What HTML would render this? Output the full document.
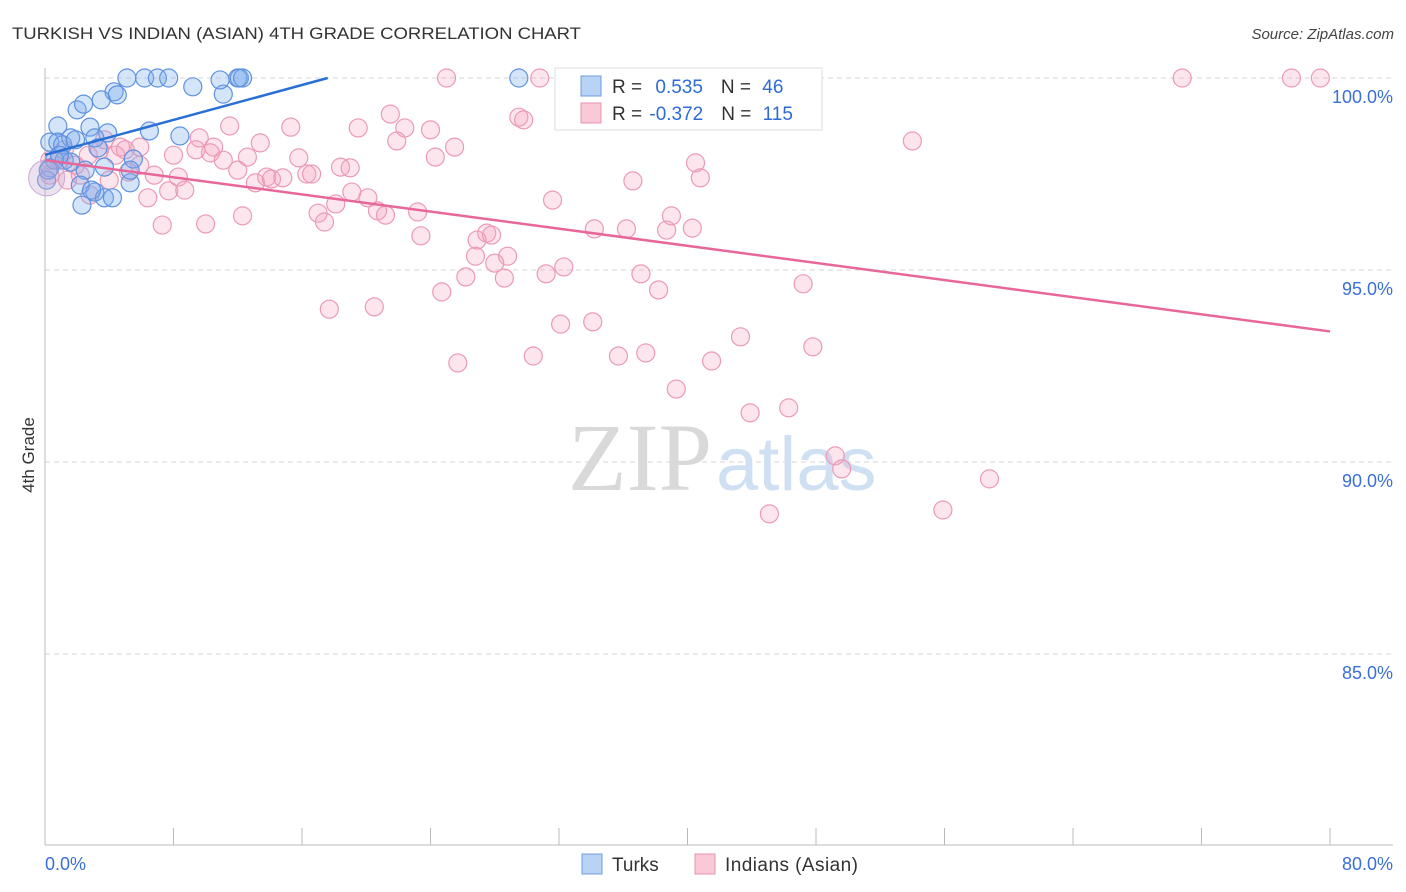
<!DOCTYPE html>
<html><head><meta charset="utf-8">
<style>
body{margin:0;background:#fff;font-family:"Liberation Sans",sans-serif;}
svg{display:block}
</style></head>
<body>
<svg id="chart" width="1406" height="892">
<text x="12" y="39" font-size="17" fill="#333" textLength="569" lengthAdjust="spacingAndGlyphs">TURKISH VS INDIAN (ASIAN) 4TH GRADE CORRELATION CHART</text>
<text x="1394" y="39" font-size="15" fill="#444" text-anchor="end" font-style="italic">Source: ZipAtlas.com</text>
<text x="0" y="0" font-size="17" fill="#333" transform="translate(34,455) rotate(-90)" text-anchor="middle">4th Grade</text>
<g id="grid"></g>
<text x="712" y="490" font-size="96" fill="#d9d9d9" text-anchor="end" font-family="Liberation Serif,serif">ZIP</text>
<text x="716" y="490" font-size="76" fill="#cfe0f3">atlas</text>
<g id="marks"></g>
<g id="legend">
<rect x="555" y="68" width="267" height="62" fill="#fff" stroke="#ddd"/>
<rect x="581" y="76" width="20" height="20" fill="#b9d3f5" stroke="#6c9be0"/>
<rect x="581" y="103" width="20" height="20" fill="#f9c9d8" stroke="#e893b0"/>
<text x="612" y="93" font-size="19" fill="#333">R = <tspan fill="#2e6bd4" dx="8">0.535</tspan><tspan dx="18" fill="#333">N = </tspan><tspan fill="#2e6bd4" dx="6">46</tspan></text>
<text x="612" y="120" font-size="19" fill="#333">R = <tspan fill="#2e6bd4" dx="2">-0.372</tspan><tspan dx="18" fill="#333">N = </tspan><tspan fill="#2e6bd4" dx="6">115</tspan></text>
</g>
<g>
<rect x="582" y="854" width="20" height="20" fill="#b9d3f5" stroke="#6c9be0"/>
<text x="612" y="871" font-size="19" fill="#333">Turks</text>
<rect x="695" y="854" width="20" height="20" fill="#f9c9d8" stroke="#e893b0"/>
<text x="725" y="871" font-size="19" fill="#333" textLength="133">Indians (Asian)</text>
</g>
</svg>
<script>
const yTicks=[100,95,90,85];
const yTickLabels=["100.0%","95.0%","90.0%","85.0%"];
const xTickCount=10;
const turksX=[5.1,6.2,7.0,7.7,12.0,12.1,12.3,29.5,9.2,11.1,4.3,4.5,3.5,2.0,2.4,0.8,2.8,3.9,6.5,8.4,3.1,0.3,0.8,1.6,1.1,3.3,1.2,1.6,5.5,0.3,3.7,2.5,0.1,5.3,2.2,3.1,2.3,3.7,4.2,0.6,0.9,1.9,0.2,5.3,2.9,10.9];
const turksY=[100,100,100,100,100,100,100,100,99.77,99.58,99.64,99.56,99.43,99.17,99.32,98.75,98.72,98.57,98.62,98.49,98.44,98.33,98.33,98.44,98.26,98.18,97.86,97.81,97.89,97.66,97.68,97.60,97.34,97.27,97.21,97.03,96.69,96.88,96.88,97.86,97.99,98.39,97.60,97.60,97.08,99.95];
const indX=[25.0,30.8,46.8,70.8,77.6,79.4,21.5,29.5,29.8,11.5,15.3,19.5,22.4,24.0,54.0,9.6,13.4,21.9,25.5,4.7,5.9,10.5,9.4,8.0,10.3,12.6,15.8,24.3,11.1,40.5,18.4,19.0,12.0,16.3,16.6,13.8,14.1,14.8,13.1,6.8,8.3,36.6,40.8,4.0,8.7,7.7,19.1,20.1,6.4,18.1,31.6,12.3,17.0,20.7,21.2,23.2,17.4,7.3,10.0,34.2,36.2,39.0,38.7,40.3,23.4,26.9,27.5,27.8,26.8,28.8,28.0,32.3,31.2,37.1,26.2,28.6,38.2,24.7,47.2,17.7,20.5,32.1,34.1,43.3,37.4,47.8,25.7,30.4,35.7,41.5,39.3,43.9,46.3,49.2,49.6,58.8,45.1,55.9,0.9,1.9,2.7,3.4,0.3,1.4,5.2,4.4,5.9,2.2,2.8,1.2,3.7,5.0,0.3];
const indY=[100,100,100,100,100,100,99.06,98.98,98.91,98.75,98.72,98.70,98.70,98.65,98.36,98.44,98.31,98.36,98.20,98.20,98.20,98.20,98.13,97.99,98.05,97.94,97.92,97.94,97.86,97.79,97.68,97.66,97.60,97.50,97.50,97.42,97.37,97.40,97.27,97.47,97.42,97.32,97.40,97.34,97.08,97.06,97.03,96.88,96.88,96.72,96.82,96.41,96.48,96.54,96.43,96.51,96.25,96.17,96.20,96.07,96.07,96.41,96.04,96.09,95.89,95.78,95.96,95.91,95.36,95.36,95.18,95.08,94.90,94.90,94.82,94.79,94.48,94.43,94.64,93.98,94.04,93.59,93.65,93.26,92.84,93.00,92.58,92.76,92.76,92.63,91.90,91.28,91.41,90.16,89.82,89.56,88.65,88.75,97.86,97.73,97.99,98.13,97.47,97.34,97.55,97.99,97.73,97.47,96.95,98.13,98.39,98.13,97.86];
const turksTrend=[[0,98.0],[17.6,100]];
const indTrend=[[0,97.86],[80,93.4]];

const NS="http://www.w3.org/2000/svg";
const X0=45,X1=1330,Y100=78,PX5=192;
const sx=v=>X0+(v/80)*(X1-X0);
const sy=v=>Y100+(100-v)/5*PX5;
function mk(tag,attrs,parent){const e=document.createElementNS(NS,tag);for(const k in attrs)e.setAttribute(k,attrs[k]);parent.appendChild(e);return e;}
const grid=document.getElementById('grid');
yTicks.forEach((t,i)=>{
  const l=mk('line',{x1:X0,x2:1393,y1:sy(t),y2:sy(t),stroke:'#d6d6d6','stroke-dasharray':'5,4'},grid);
  
  
  const tx=mk('text',{x:1393,y:sy(t)+25,'font-size':18,fill:'#3a6fd8','text-anchor':'end'},grid);
  tx.textContent=yTickLabels[i];
  
  
});
const ax=mk('line',{x1:X0,x2:X0,y1:68,y2:845,stroke:'#bbb'},grid);


const bx=mk('line',{x1:X0,x2:1393,y1:845,y2:845,stroke:'#bbb'},grid);


for(let i=0;i<=xTickCount;i++){
  const t=mk('line',{x1:sx(i*8),x2:sx(i*8),y1:828,y2:845,stroke:'#bbb'},grid);
  
  
}
const xl0=mk('text',{x:45,y:870,'font-size':18,fill:'#3a6fd8'},grid);xl0.textContent='0.0%';


const xl1=mk('text',{x:1393,y:870,'font-size':18,fill:'#3a6fd8','text-anchor':'end'},grid);xl1.textContent='80.0%';



const marks=document.getElementById('marks');
indX.forEach((v,i)=>{
  const c=mk('circle',{cx:sx(v),cy:sy(indY[i]),r:9,fill:'rgba(244,160,190,0.28)',stroke:'#eb9ab6','stroke-width':1.2},marks);
  
  
});
turksX.forEach((v,i)=>{
  const c=mk('circle',{cx:sx(v),cy:sy(turksY[i]),r:9,fill:'rgba(120,170,235,0.32)',stroke:'#5f92df','stroke-width':1.2},marks);
  
  
});
const big=mk('circle',{cx:sx(0.1),cy:sy(97.4),r:18,fill:'rgba(200,170,210,0.35)',stroke:'#c9a9d6'},marks);


const tl1=mk('line',{x1:sx(turksTrend[0][0]),y1:sy(turksTrend[0][1]),x2:sx(turksTrend[1][0]),y2:sy(turksTrend[1][1]),stroke:'#2a6fd6','stroke-width':2.5},marks);


const tl2=mk('line',{x1:sx(indTrend[0][0]),y1:sy(indTrend[0][1]),x2:sx(indTrend[1][0]),y2:sy(indTrend[1][1]),stroke:'#e8679a','stroke-width':2.5},marks);


</script>
</body></html>
